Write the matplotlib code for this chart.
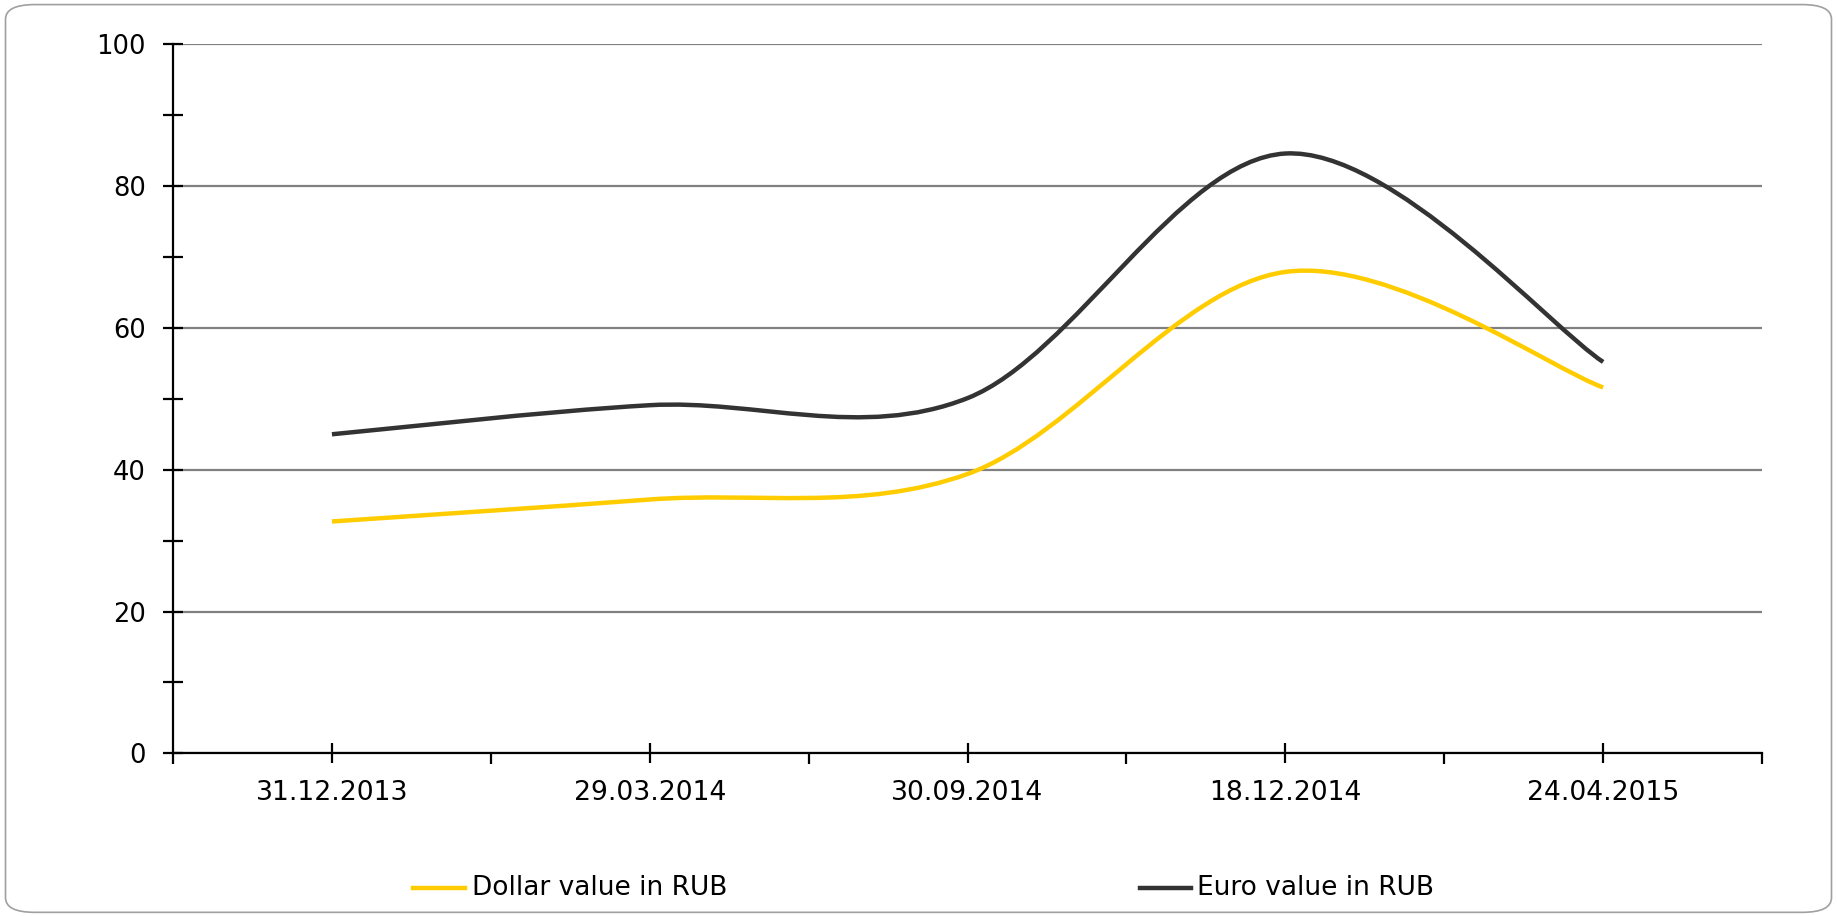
import numpy as np
import matplotlib.pyplot as plt
from matplotlib.path import Path
from matplotlib.patches import PathPatch, FancyBboxPatch
from matplotlib.lines import Line2D

dates = ["31.12.2013", "29.03.2014", "30.09.2014", "18.12.2014", "24.04.2015"]
dollar = [32.7, 35.8, 39.4, 67.9, 51.6]
euro = [45.0, 49.1, 50.1, 84.6, 55.2]

plt.rcParams['font.family'] = ['DejaVu Sans']


def smooth_path(x, y):
    # Excel-style smoothed line: cubic Bezier through the points (Catmull-Rom tangents)
    p = np.column_stack([x, y]).astype(float)
    n = len(p)
    verts = [p[0]]
    codes = [Path.MOVETO]
    for i in range(n - 1):
        prev = p[i - 1] if i > 0 else p[i]
        nxt = p[i + 2] if i + 2 < n else p[i + 1]
        c1 = p[i] + (p[i + 1] - prev) / 6
        c2 = p[i + 1] - (nxt - p[i]) / 6
        verts += [c1, c2, p[i + 1]]
        codes += [Path.CURVE4] * 3
    return Path(verts, codes)


fig = plt.figure(figsize=(18.37, 9.16), dpi=100)
fig.patch.set_facecolor('white')

border = FancyBboxPatch((0.003, 0.004), 0.994, 0.991,
                        boxstyle="round,pad=0,rounding_size=0.016",
                        transform=fig.transFigure, facecolor='none',
                        edgecolor='#a0a0a0', linewidth=1.2)
fig.patches.append(border)

ax = fig.add_axes([0.0942, 0.1776, 0.8650, 0.7740])

xpos = np.arange(len(dates)) * 2 + 1
ax.set_xlim(0, 2 * len(dates))
ax.set_ylim(0, 100)

for vals, col in [(dollar, '#ffcc00'), (euro, '#333333')]:
    patch = PathPatch(smooth_path(xpos, vals), facecolor='none', edgecolor=col,
                      linewidth=3.2, capstyle='butt', zorder=3)
    ax.add_patch(patch)

ax.set_yticks(np.arange(0, 101, 20))
ax.set_yticks(np.arange(10, 100, 20), minor=True)
ax.set_xticks(xpos)
ax.set_xticklabels(dates)
ax.set_xticks(np.arange(0, 2 * len(dates) + 1, 2), minor=True)

ax.yaxis.grid(True, which='major', color='#808080', linewidth=1.6)
ax.set_axisbelow(True)

for s in ['top', 'right']:
    ax.spines[s].set_visible(False)
for s in ['left', 'bottom']:
    ax.spines[s].set_linewidth(1.6)
    ax.spines[s].set_color('black')

ax.tick_params(axis='y', which='major', direction='inout', length=15, width=1.6,
               labelsize=18.5, pad=12)
ax.tick_params(axis='y', which='minor', direction='inout', length=14, width=1.6)
ax.tick_params(axis='x', which='major', direction='inout', length=14, width=1.6,
               labelsize=19.2, pad=12)
ax.tick_params(axis='x', which='minor', direction='out', length=8, width=1.6)

# legend drawn below the chart
fig.add_artist(Line2D([0.2248, 0.2531], [0.0306, 0.0306], color='#ffcc00',
                      linewidth=3.2, transform=fig.transFigure))
fig.text(0.2570, 0.0306, "Dollar value in RUB", fontsize=19, va='center', ha='left')
fig.add_artist(Line2D([0.6206, 0.6484], [0.0306, 0.0306], color='#333333',
                      linewidth=3.2, transform=fig.transFigure))
fig.text(0.6516, 0.0306, "Euro value in RUB", fontsize=19, va='center', ha='left')

fig.savefig("out.png", dpi=100)
